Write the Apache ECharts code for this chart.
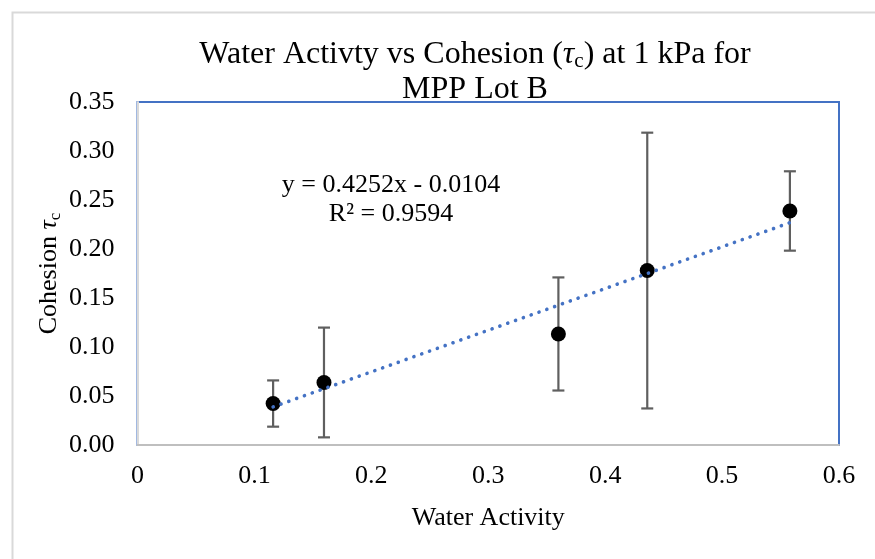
<!DOCTYPE html>
<html>
<head>
<meta charset="utf-8">
<script src="https://cdn.jsdelivr.net/npm/echarts@6/dist/echarts.min.js"></script>
<style>
html,body{margin:0;padding:0;background:#fff;}
#chart{width:875px;height:559px;}
</style>
</head>
<body>
<div id="chart"></div>
<script>
// ---- data ----
const waterActivity = [0.116, 0.1595, 0.360, 0.436, 0.558];
const cohesion      = [0.0423, 0.0638, 0.1133, 0.178, 0.2388];
const cohesionErr   = [0.0236, 0.056, 0.0577, 0.1407, 0.0405];
const xTicks = [0, 0.1, 0.2, 0.3, 0.4, 0.5, 0.6];
const yTicks = [0, 0.05, 0.10, 0.15, 0.20, 0.25, 0.30, 0.35];
const trendSlope = 0.4252;
const trendIntercept = -0.0104;
const trendR2 = 0.9594;
const trendRange = [0.116, 0.558];

const FONT = '"Liberation Serif", "Times New Roman", serif';

const points = waterActivity.map((x, i) => [x, cohesion[i]]);
const errData = waterActivity.map((x, i) => [x, cohesion[i] - cohesionErr[i], cohesion[i] + cohesionErr[i]]);
const trendData = trendRange.map(x => [x, trendSlope * x + trendIntercept]);

const chart = echarts.init(document.getElementById('chart'), null, {renderer: 'canvas'});

const option = {
  backgroundColor: '#ffffff',
  animation: false,
  title: {
    text: '{b|Water Activty vs Cohesion (}{t|τ}{s|c}{b|) at 1 kPa for}\n{b|MPP Lot B}',
    left: 470,
    top: 32,
    textAlign: 'center',
    textStyle: {
      fontFamily: FONT,
      fontSize: 32,
      fontWeight: 'normal',
      color: '#000',
      lineHeight: 35,
      rich: {
        b: {fontFamily: FONT, fontSize: 32, color: '#000', lineHeight: 35},
        t: {fontFamily: FONT, fontSize: 32, fontStyle: 'italic', color: '#000', lineHeight: 35},
        s: {fontFamily: FONT, fontSize: 21, color: '#000', lineHeight: 27, verticalAlign: 'bottom'}
      }
    }
  },
  grid: {
    left: 137.5,
    right: 36,
    top: 102,
    bottom: 114,
    show: true,
    borderColor: '#4472C4',
    borderWidth: 2,
    backgroundColor: 'transparent'
  },
  xAxis: {
    type: 'value',
    min: 0,
    max: 0.6,
    interval: 0.1,
    name: 'Water Activity',
    nameLocation: 'middle',
    nameGap: 60,
    nameMoveOverlap: false,
    nameTextStyle: {fontFamily: FONT, fontSize: 26, color: '#000'},
    axisLine: {show: true, onZero: false, lineStyle: {color: '#BFBFBF', width: 2}},
    axisTick: {show: false},
    splitLine: {show: false},
    axisLabel: {
      fontFamily: FONT, fontSize: 26, color: '#000', margin: 18,
      formatter: v => {
        const t = xTicks.find(k => Math.abs(k - v) < 1e-9);
        return t === 0 ? '0' : String(+(t !== undefined ? t : v).toFixed(1));
      }
    }
  },
  yAxis: {
    type: 'value',
    min: 0,
    max: 0.35,
    interval: 0.05,
    name: '{b|Cohesion }{t|τ}{s|c}',
    nameLocation: 'middle',
    nameRotate: 90,
    nameGap: 73,
    nameMoveOverlap: false,
    nameTextStyle: {
      fontFamily: FONT, fontSize: 26, color: '#000',
      rich: {
        b: {fontFamily: FONT, fontSize: 26, color: '#000', lineHeight: 30},
        t: {fontFamily: FONT, fontSize: 26, fontStyle: 'italic', color: '#000', lineHeight: 30},
        s: {fontFamily: FONT, fontSize: 17, color: '#000', lineHeight: 22, verticalAlign: 'bottom'}
      }
    },
    axisLine: {show: true, onZero: false, lineStyle: {color: '#D9D9D9', width: 2}},
    axisTick: {show: false},
    splitLine: {show: false},
    axisLabel: {
      fontFamily: FONT, fontSize: 26, color: '#000', margin: 23,
      formatter: v => {
        const t = yTicks.find(k => Math.abs(k - v) < 1e-9);
        return (t !== undefined ? t : v).toFixed(2);
      }
    }
  },
  graphic: [
    {
      type: 'text',
      left: 391 - 110,
      top: 171,
      style: {
        text: 'y = ' + trendSlope + 'x - ' + Math.abs(trendIntercept).toFixed(4) + '\nR² = ' + trendR2,
        font: '26px ' + FONT,
        fill: '#000',
        textAlign: 'center',
        lineHeight: 29,
        width: 220,
        align: 'center'
      }
    },
    {
      type: 'rect',
      left: 10, top: 10,
      shape: {width: 900, height: 600},
      style: {fill: 'none', stroke: '#D9D9D9', lineWidth: 2},
      silent: true, z: -10
    }
  ],
  series: [
    {
      type: 'custom',
      name: 'err',
      z: 2,
      data: errData,
      renderItem: (params, api) => {
        const x = api.value(0), lo = api.value(1), hi = api.value(2);
        const pLo = api.coord([x, lo]);
        const pHi = api.coord([x, hi]);
        const w = 6;
        const st = {stroke: '#5F5F5F', lineWidth: 2.2, fill: 'none'};
        return {
          type: 'group',
          children: [
            {type: 'line', shape: {x1: pLo[0], y1: pLo[1], x2: pHi[0], y2: pHi[1]}, style: st},
            {type: 'line', shape: {x1: pLo[0] - w, y1: pLo[1], x2: pLo[0] + w, y2: pLo[1]}, style: st},
            {type: 'line', shape: {x1: pHi[0] - w, y1: pHi[1], x2: pHi[0] + w, y2: pHi[1]}, style: st}
          ]
        };
      }
    },
    {
      type: 'scatter',
      z: 3,
      data: points,
      symbol: 'circle',
      symbolSize: 15,
      itemStyle: {color: '#000000', opacity: 1}
    },
    {
      type: 'line',
      z: 4,
      data: trendData,
      symbol: 'none',
      lineStyle: {color: '#4472C4', width: 3.6, type: [0.1, 8.2], cap: 'round'}
    }
  ]
};
chart.setOption(option);
</script>
</body>
</html>
